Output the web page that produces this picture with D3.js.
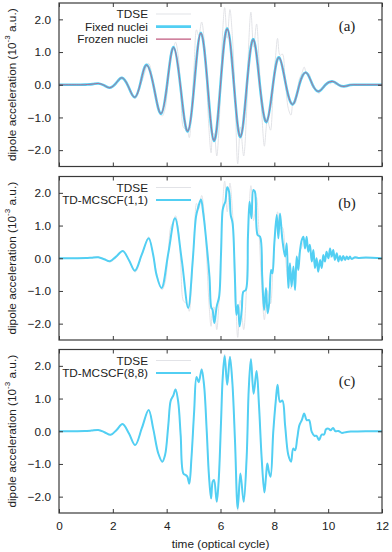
<!DOCTYPE html>
<html>
<head>
<meta charset="utf-8">
<script src="https://cdn.jsdelivr.net/npm/d3@7"></script>
<style>
  body { margin: 0; background: #fff; }
  svg { display: block; font-family: "Liberation Sans", Arial, sans-serif; }
</style>
</head>
<body>
<div id="chart"></div>
<script>
// Axis ticks
const xTicks = [0, 2, 4, 6, 8, 10, 12];
const yTicks = [-2, -1, 0, 1, 2];

// Series values as [time (optical cycle), dipole acceleration (1e-3 a.u.)]
const tdse = [
  [0, 0], [0.6, 0], [0.9, 0.005], [1.2, 0.02], [1.46, 0.04], [1.68, -0.03], [1.91, -0.11],
  [2.14, 0.04], [2.36, 0.22], [2.6, -0.07], [2.83, -0.42], [3.08, 0.1], [3.33, 0.65],
  [3.5, 0.08], [3.69, -0.68], [3.83, -0.96], [3.94, -0.74], [4.06, 0.18], [4.15, 0.95],
  [4.25, 1.12], [4.33, 1.3], [4.43, 0.89], [4.52, -0.12], [4.62, -1.3], [4.7, -1.36],
  [4.77, -1.4], [4.84, -1.62], [4.92, -0.83], [5.02, 0.59], [5.11, 1.68], [5.19, 1.5],
  [5.3, 1.92], [5.39, 1.4], [5.49, -0.02], [5.57, -1.34], [5.65, -2.08], [5.71, -1.54],
  [5.76, -1.49], [5.86, -2.18], [5.93, -1.54], [6.02, 0.29], [6.08, 1.61], [6.155, 2.36],
  [6.25, 1.42], [6.35, 2.3], [6.44, 1.5], [6.54, -0.32], [6.64, -2.42], [6.74, -1.29],
  [6.86, -2.18], [6.97, -0.83], [7.05, 1.3], [7.13, 2.22], [7.23, 1.15], [7.34, 1.86],
  [7.43, 0.79], [7.53, -0.83], [7.63, -1.88], [7.69, -1.39], [7.74, -0.99], [7.8, -1.24],
  [7.86, -1.39], [7.96, -0.02], [8.05, 0.9], [8.12, 1.42], [8.21, 0.9], [8.3, 0.94],
  [8.4, 0.18], [8.52, -0.73], [8.62, -0.93], [8.7, -0.53], [8.77, -0.58], [8.85, -0.22],
  [8.93, 0.18], [9.02, 0.34], [9.11, 0.54], [9.2, 0.34], [9.29, 0.34], [9.39, -0.02],
  [9.49, -0.14], [9.57, -0.14], [9.66, -0.27], [9.76, -0.1], [9.85, -0.1], [9.92, 0.06],
  [10.01, 0.08], [10.09, 0.03], [10.18, 0.1], [10.27, 0.0], [10.38, 0.01], [10.5, -0.05],
  [10.69, -0.02], [10.87, -0.01], [11.4, 0], [12, 0]
];

const fixedNuclei = [
  [0, 0], [0.8, 0], [1.0, 0.005], [1.25, 0.02], [1.46, 0.04], [1.68, -0.02], [1.89, -0.09],
  [2.12, 0.05], [2.34, 0.21], [2.58, -0.06], [2.82, -0.38], [3.04, 0.1], [3.26, 0.61],
  [3.53, -0.1], [3.79, -0.89], [4.03, 0.1], [4.26, 1.15], [4.52, -0.1], [4.78, -1.43],
  [5.03, 0.05], [5.27, 1.59], [5.52, 0], [5.76, -1.72], [6.0, 0], [6.25, 1.72], [6.5, 0],
  [6.74, -1.6], [6.98, 0], [7.22, 1.39], [7.46, 0], [7.71, -1.14], [7.95, 0], [8.18, 0.84],
  [8.43, 0], [8.69, -0.6], [8.93, 0], [9.18, 0.37], [9.42, 0], [9.66, -0.2], [9.9, 0],
  [10.17, 0.1], [10.38, 0], [10.59, -0.05], [10.8, -0.01], [11.0, 0], [12, 0]
];

const frozenNuclei = [
  [0, 0], [0.8, 0], [1.0, 0.005], [1.25, 0.02], [1.46, 0.04], [1.68, -0.02], [1.89, -0.09],
  [2.12, 0.05], [2.34, 0.21], [2.58, -0.06], [2.82, -0.38], [3.04, 0.1], [3.26, 0.6],
  [3.53, -0.1], [3.79, -0.88], [4.03, 0.1], [4.26, 1.14], [4.52, -0.1], [4.78, -1.42],
  [5.03, 0.05], [5.27, 1.58], [5.52, 0], [5.76, -1.71], [6.0, 0], [6.25, 1.71], [6.5, 0],
  [6.74, -1.59], [6.98, 0], [7.22, 1.38], [7.46, 0], [7.71, -1.13], [7.95, 0], [8.18, 0.83],
  [8.43, 0], [8.69, -0.6], [8.93, 0], [9.18, 0.37], [9.42, 0], [9.66, -0.2], [9.9, 0],
  [10.17, 0.1], [10.38, 0], [10.59, -0.05], [10.8, -0.01], [11.0, 0], [12, 0]
];

const mcscf11 = [
  [0, 0], [0.7, 0], [1.0, 0.005], [1.2, 0.015], [1.46, 0.03], [1.68, -0.03], [1.89, -0.09],
  [2.12, 0.05], [2.37, 0.22], [2.6, -0.06], [2.82, -0.38], [3.07, 0.1], [3.33, 0.61],
  [3.5, 0.1], [3.62, -0.5], [3.81, -0.91], [4.06, 0.15], [4.31, 1.22], [4.56, -0.05],
  [4.8, -1.52], [4.97, -0.05], [5.09, 1.27], [5.18, 1.58], [5.275, 1.8], [5.36, 1.37],
  [5.45, 0.71], [5.59, -0.56], [5.66, -1.52], [5.7, -1.56], [5.77, -1.98], [5.86, -1.47],
  [5.95, -1.17], [6.02, 0.15], [6.08, 1.47], [6.13, 1.63], [6.18, 1.73], [6.25, 2.17],
  [6.32, 2.03], [6.38, 1.32], [6.45, 1.07], [6.53, -0.46], [6.59, -1.73], [6.65, -1.42],
  [6.71, -2.08], [6.79, -1.57], [6.85, -1.02], [6.94, -0.97], [7.02, 0.66], [7.08, 1.73],
  [7.15, 1.22], [7.22, 2.09], [7.28, 2.03], [7.38, 0.71], [7.47, 0.66], [7.55, -0.56],
  [7.62, -1.58], [7.69, -0.91], [7.75, -1.68], [7.81, -1.37], [7.88, -0.36], [7.93, -0.46],
  [8.0, 0.46], [8.09, 1.32], [8.15, 0.61], [8.21, 1.37], [8.3, 0.56], [8.4, 0.05],
  [8.46, 0.46], [8.52, -0.91], [8.58, -0.15], [8.64, -0.86], [8.71, -0.25], [8.77, -0.97],
  [8.83, 0.05], [8.89, -0.36], [8.95, 0.2], [9.02, 0.56], [9.08, 0.66], [9.14, 0.3],
  [9.2, 0.66], [9.26, 0.2], [9.32, 0.41], [9.39, -0.1], [9.45, 0.25], [9.51, -0.3],
  [9.57, 0.0], [9.63, -0.41], [9.7, -0.05], [9.76, -0.3], [9.82, 0.1], [9.88, -0.1],
  [9.94, 0.2], [10.01, 0.0], [10.07, 0.3], [10.13, 0.05], [10.19, 0.25], [10.25, -0.05],
  [10.32, 0.15], [10.38, -0.1], [10.44, 0.07], [10.5, -0.07], [10.56, 0.07], [10.63, -0.05],
  [10.69, 0.05], [10.75, -0.03], [10.81, 0.05], [10.87, -0.02], [11.0, 0.03], [11.12, 0.01],
  [11.4, 0.02], [12, 0]
];

const mcscf88 = [
  [0, 0], [0.66, 0], [0.95, 0.005], [1.2, 0.02], [1.46, 0.04], [1.69, -0.03], [1.92, -0.11],
  [2.14, 0.04], [2.36, 0.22], [2.6, -0.07], [2.83, -0.42], [3.08, 0.1], [3.33, 0.65],
  [3.5, 0.08], [3.69, -0.68], [3.84, -0.93], [3.94, -0.73], [4.06, 0.18], [4.15, 0.93],
  [4.25, 1.1], [4.33, 1.28], [4.43, 0.89], [4.52, -0.12], [4.62, -1.29], [4.71, -1.34],
  [4.77, -1.39], [4.84, -1.6], [4.92, -0.83], [5.02, 0.59], [5.11, 1.66], [5.19, 1.5],
  [5.3, 1.89], [5.39, 1.4], [5.49, -0.02], [5.57, -1.34], [5.65, -2.05], [5.71, -1.54],
  [5.76, -1.49], [5.86, -2.15], [5.93, -1.54], [6.02, 0.29], [6.08, 1.61], [6.155, 2.3],
  [6.25, 1.42], [6.35, 2.27], [6.44, 1.5], [6.54, -0.32], [6.64, -2.36], [6.74, -1.29],
  [6.86, -2.15], [6.97, -0.83], [7.05, 1.3], [7.13, 2.2], [7.23, 1.15], [7.34, 1.84],
  [7.43, 0.79], [7.53, -0.83], [7.63, -1.87], [7.69, -1.39], [7.74, -0.99], [7.8, -1.24],
  [7.86, -1.39], [7.96, -0.02], [8.05, 0.9], [8.12, 1.42], [8.21, 0.9], [8.3, 0.94],
  [8.4, 0.18], [8.52, -0.73], [8.62, -0.93], [8.7, -0.53], [8.77, -0.58], [8.85, -0.22],
  [8.93, 0.18], [9.02, 0.34], [9.11, 0.54], [9.2, 0.34], [9.29, 0.34], [9.39, -0.02],
  [9.49, -0.14], [9.57, -0.14], [9.66, -0.27], [9.76, -0.1], [9.85, -0.1], [9.92, 0.06],
  [10.01, 0.08], [10.09, 0.03], [10.18, 0.1], [10.27, 0.0], [10.38, 0.01], [10.5, -0.05],
  [10.69, -0.02], [10.87, -0.01], [11.4, 0], [12, 0]
];

// Styles
const GRAY = '#e2e3e7';
const CYAN = '#52cff3';
const PINK = '#c0587e';

const width = 392, height = 552;
const left = 59, right = 382;
const panelH = 163.5;
const fontSize = 11.8;

const smooth = d3.curveNatural;
const wiggly = d3.curveCatmullRom.alpha(0.5);

const panels = [
  { top: 3, tag: '(a)', tagY: 22.7, series: [
    { name: 'TDSE', data: tdse, color: GRAY, w: 1, curve: wiggly },
    { name: 'Fixed nuclei', data: fixedNuclei, color: CYAN, w: 2.6, curve: smooth },
    { name: 'Frozen nuclei', data: frozenNuclei, color: PINK, w: 0.8, curve: smooth }
  ]},
  { top: 176.5, tag: '(b)', tagY: 25.8, series: [
    { name: 'TDSE', data: tdse, color: GRAY, w: 1, curve: wiggly },
    { name: 'TD-MCSCF(1,1)', data: mcscf11, color: CYAN, w: 2, curve: wiggly }
  ]},
  { top: 349.5, tag: '(c)', tagY: 31.5, series: [
    { name: 'TDSE', data: tdse, color: GRAY, w: 1, curve: wiggly },
    { name: 'TD-MCSCF(8,8)', data: mcscf88, color: CYAN, w: 2, curve: wiggly }
  ]}
];

const svg = d3.select('#chart').append('svg')
  .attr('width', width)
  .attr('height', height);

const x = d3.scaleLinear().domain([0, 12]).range([left, right]);

panels.forEach((p, i) => {
  const y = d3.scaleLinear().domain([-2.5, 2.5]).range([p.top + panelH, p.top]);
  const g = svg.append('g');

  const clipId = 'clip' + i;
  svg.append('clipPath').attr('id', clipId)
    .append('rect')
    .attr('x', left).attr('y', p.top)
    .attr('width', right - left).attr('height', panelH);

  // curves
  const plot = g.append('g').attr('clip-path', `url(#${clipId})`);
  p.series.forEach(s => {
    const line = d3.line()
      .x(d => x(d[0]))
      .y(d => y(d[1]))
      .curve(s.curve);
    plot.append('path')
      .datum(s.data)
      .attr('d', line)
      .attr('fill', 'none')
      .attr('stroke', s.color)
      .attr('stroke-width', s.w)
      .attr('stroke-linejoin', 'round');
  });

  // axes with inward ticks (mirrored)
  const tickStyle = sel => {
    sel.select('.domain').remove();
    sel.selectAll('.tick line').attr('stroke', '#3a3a3a').attr('stroke-width', 1);
  };
  g.append('g').attr('transform', `translate(0,${p.top + panelH})`)
    .call(d3.axisBottom(x).tickValues(xTicks).tickSizeInner(-4).tickSizeOuter(0)
      .tickFormat(i === 2 ? d3.format('d') : ''))
    .call(tickStyle)
    .call(sel => sel.selectAll('text')
      .attr('font-size', fontSize).attr('fill', '#222').attr('dy', '1.2em'));
  g.append('g').attr('transform', `translate(0,${p.top})`)
    .call(d3.axisTop(x).tickValues(xTicks).tickSizeInner(-4).tickSizeOuter(0).tickFormat(''))
    .call(tickStyle);
  g.append('g').attr('transform', `translate(${left},0)`)
    .call(d3.axisLeft(y).tickValues(yTicks).tickSizeInner(-4).tickSizeOuter(0)
      .tickFormat(d3.format('.1f')).tickPadding(8))
    .call(tickStyle)
    .call(sel => sel.selectAll('text').attr('font-size', fontSize).attr('fill', '#222'));
  g.append('g').attr('transform', `translate(${right},0)`)
    .call(d3.axisRight(y).tickValues(yTicks).tickSizeInner(-4).tickSizeOuter(0).tickFormat(''))
    .call(tickStyle);

  // frame
  g.append('rect')
    .attr('x', left).attr('y', p.top)
    .attr('width', right - left).attr('height', panelH)
    .attr('fill', 'none')
    .attr('stroke', '#3a3a3a')
    .attr('stroke-width', 1.2);

  // legend
  p.series.forEach((s, k) => {
    const ly = p.top + 11 + k * 12.6;
    g.append('text')
      .attr('x', 148).attr('y', ly)
      .attr('dy', '0.36em')
      .attr('text-anchor', 'end')
      .attr('font-size', fontSize)
      .attr('fill', '#222')
      .text(s.name);
    g.append('line')
      .attr('x1', 156).attr('x2', 191)
      .attr('y1', ly).attr('y2', ly)
      .attr('stroke', s.color)
      .attr('stroke-width', s.w < 1.5 ? 1.2 : s.w);
  });

  // panel tag
  g.append('text')
    .attr('x', 347).attr('y', p.top + p.tagY)
    .attr('dy', '0.35em')
    .attr('text-anchor', 'middle')
    .attr('font-family', '"Liberation Serif", "Times New Roman", serif')
    .attr('font-size', 15)
    .attr('fill', '#222')
    .text(p.tag);

  // y label
  const yl = g.append('text')
    .attr('transform', `translate(12,${p.top + panelH / 2}) rotate(-90)`)
    .attr('dy', '0.35em')
    .attr('text-anchor', 'middle')
    .attr('font-size', fontSize)
    .attr('fill', '#222');
  yl.append('tspan').text('dipole acceleration (10');
  yl.append('tspan').attr('font-size', 8).attr('dy', '-0.8em').text('-3');
  yl.append('tspan').attr('dy', '0.55em').text(' a.u.)');
});

// x title
svg.append('text')
  .attr('x', (left + right) / 2).attr('y', 544)
  .attr('dy', '0.35em')
  .attr('text-anchor', 'middle')
  .attr('font-size', fontSize)
  .attr('fill', '#222')
  .text('time (optical cycle)');
</script>
</body>
</html>
